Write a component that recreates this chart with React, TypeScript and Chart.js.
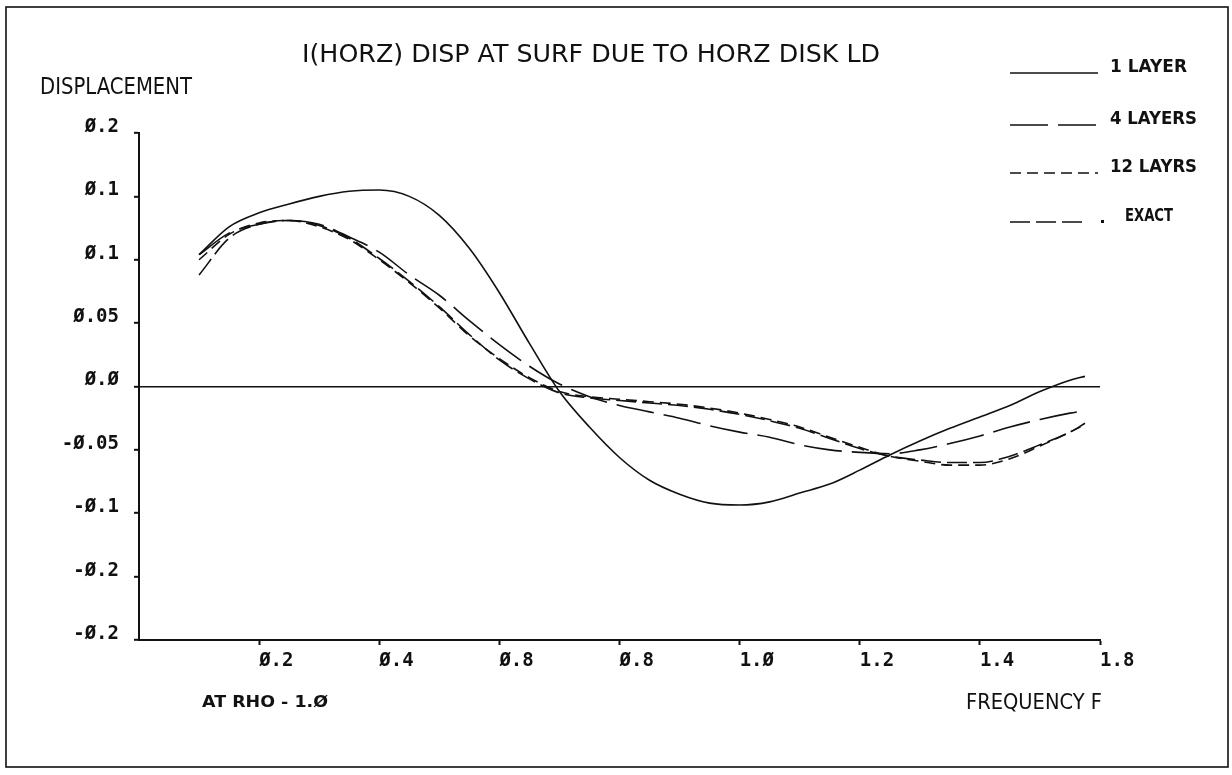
import React, { useEffect, useRef } from "react";
import { Chart, registerables } from "chart.js";

Chart.register(...registerables);

// Frequency samples (x) shared by all four curves
const FREQ = [
  0.1, 0.15, 0.2, 0.25, 0.3, 0.35, 0.4, 0.45, 0.5, 0.55, 0.6, 0.65, 0.7, 0.75, 0.8, 0.85,
  0.9, 0.95, 1.0, 1.05, 1.1, 1.15, 1.2, 1.25, 1.3, 1.35, 1.4, 1.45, 1.5, 1.55, 1.575,
];

const ONE_LAYER = [
  0.104, 0.126, 0.137, 0.144, 0.15, 0.154, 0.155, 0.15, 0.135, 0.109, 0.074, 0.034, -0.004,
  -0.032, -0.056, -0.074, -0.085, -0.092, -0.0935, -0.091, -0.084, -0.077, -0.066, -0.054,
  -0.043, -0.033, -0.024, -0.015, -0.004, 0.005, 0.008,
];

const FOUR_LAYERS = [
  0.104, 0.121, 0.128, 0.131, 0.128, 0.118, 0.106, 0.088, 0.072, 0.052, 0.033, 0.016, 0.002,
  -0.008, -0.015, -0.02, -0.025, -0.031, -0.036, -0.04, -0.046, -0.05, -0.052, -0.053, -0.05,
  -0.045, -0.039, -0.032, -0.026, -0.021, -0.019,
];

const TWELVE_LAYERS = [
  0.1, 0.12, 0.129, 0.131, 0.126, 0.116, 0.1, 0.082, 0.062, 0.04, 0.022, 0.007, -0.004,
  -0.008, -0.01, -0.012, -0.014, -0.017, -0.021, -0.026, -0.032, -0.04, -0.048, -0.055,
  -0.059, -0.062, -0.062, -0.057, -0.047, -0.036, -0.03,
];

const EXACT = [
  0.088, 0.117, 0.128, 0.131, 0.127, 0.117, 0.101, 0.083, 0.063, 0.041, 0.021, 0.006, -0.005,
  -0.009, -0.011, -0.013, -0.015, -0.018, -0.022, -0.027, -0.033, -0.041, -0.049, -0.055,
  -0.058, -0.06, -0.06, -0.055, -0.046, -0.036, -0.029,
];

const SERIES_LABELS = ["1 LAYER", "4 LAYERS", "12 LAYRS", "EXACT"];

const X_TICKS = [0.2, 0.4, 0.6, 0.8, 1.0, 1.2, 1.4, 1.6];
const X_TICK_LABELS = ["Ø.2", "Ø.4", "Ø.8", "Ø.8", "1.Ø", "1.2", "1.4", "1.8"];
const Y_TICKS = [-0.2, -0.15, -0.1, -0.05, 0, 0.05, 0.1, 0.15, 0.2];
const Y_TICK_LABELS = ["-Ø.2", "-Ø.2", "-Ø.1", "-Ø.05", "Ø.Ø", "Ø.05", "Ø.1", "Ø.1", "Ø.2"];

const TITLE = "I(HORZ) DISP AT SURF DUE TO HORZ DISK LD";
const Y_TITLE = "DISPLACEMENT";
const X_TITLE = "FREQUENCY F";
const NOTE = "AT RHO - 1.Ø";

const INK = "#111";
const W = 1232;
const H = 775;

// Draw text squeezed/stretched horizontally to a given width (plotter lettering)
function fitText(
  ctx: CanvasRenderingContext2D,
  text: string,
  x: number,
  y: number,
  width: number,
  font: string
) {
  ctx.save();
  ctx.font = font;
  const w = ctx.measureText(text).width;
  ctx.translate(x, y);
  ctx.scale(width / w, 1);
  ctx.textAlign = "left";
  ctx.textBaseline = "middle";
  ctx.fillStyle = INK;
  ctx.fillText(text, 0, 0);
  ctx.restore();
}

const framePlugin = {
  id: "plotterFrame",
  beforeDraw(chart: any) {
    const ctx = chart.ctx as CanvasRenderingContext2D;
    ctx.save();
    ctx.fillStyle = "#fff";
    ctx.fillRect(0, 0, W, H);
    ctx.strokeStyle = INK;
    ctx.lineWidth = 1.6;
    ctx.strokeRect(6, 7, 1222, 760);
    ctx.restore();
  },
};

// Legend rows: sample line followed by the series name
const LEGEND_ROWS_Y = [68, 120, 168, 217];
const LEGEND_TEXT_X = [1110, 1110, 1110, 1125];
const LEGEND_TEXT_W = [77, 87, 87, 48];

const labelsPlugin = {
  id: "plotterLabels",
  afterDraw(chart: any) {
    const ctx = chart.ctx as CanvasRenderingContext2D;
    fitText(ctx, TITLE, 302, 55, 578, '400 25px "DejaVu Sans"');
    fitText(ctx, Y_TITLE, 40, 88, 152, '400 23px "DejaVu Sans"');
    fitText(ctx, NOTE, 202, 703, 126, '700 15px "DejaVu Sans"');
    fitText(ctx, X_TITLE, 966, 703, 136, '400 22px "DejaVu Sans"');

    chart.data.datasets.forEach((ds: any, i: number) => {
      const y = LEGEND_ROWS_Y[i];
      ctx.save();
      ctx.strokeStyle = INK;
      ctx.lineWidth = 1.6;
      ctx.setLineDash(ds.borderDash || []);
      ctx.beginPath();
      const end = i === 3 ? 1083 : 1098;
      ctx.moveTo(1010, y + 5);
      ctx.lineTo(end, y + 5);
      ctx.stroke();
      if (i === 3) {
        ctx.setLineDash([]);
        ctx.fillStyle = INK;
        ctx.fillRect(1101, y + 3, 3, 3);
      }
      ctx.restore();
      fitText(ctx, ds.label, LEGEND_TEXT_X[i], y, LEGEND_TEXT_W[i], '700 17px "DejaVu Sans"');
    });
  },
};

function series(values: number[]) {
  return FREQ.map((f, i) => ({ x: f, y: values[i] }));
}

export default function App() {
  const canvasRef = useRef<HTMLCanvasElement | null>(null);

  useEffect(() => {
    const canvas = canvasRef.current;
    if (!canvas) return;
    const base = {
      borderColor: INK,
      borderWidth: 1.6,
      pointRadius: 0,
      fill: false,
      cubicInterpolationMode: "monotone" as const,
    };
    const chart = new Chart(canvas, {
      type: "line",
      data: {
        datasets: [
          { ...base, label: SERIES_LABELS[0], data: series(ONE_LAYER), borderDash: [] },
          { ...base, label: SERIES_LABELS[1], data: series(FOUR_LAYERS), borderDash: [38, 10] },
          { ...base, label: SERIES_LABELS[2], data: series(TWELVE_LAYERS), borderDash: [11, 6] },
          { ...base, label: SERIES_LABELS[3], data: series(EXACT), borderDash: [20, 6] },
        ],
      },
      options: {
        animation: false,
        responsive: false,
        devicePixelRatio: 1,
        events: [],
        layout: { padding: { left: 0, top: 133, right: 132, bottom: 0 } },
        plugins: {
          legend: { display: false },
          title: { display: false },
          tooltip: { enabled: false },
        },
        scales: {
          x: {
            type: "linear",
            min: 0,
            max: 1.6,
            afterBuildTicks: (scale: any) => {
              scale.ticks = X_TICKS.map((v) => ({ value: v }));
            },
            afterFit: (scale: any) => {
              scale.height = H - 640;
            },
            border: { display: true, color: INK, width: 2 },
            grid: {
              drawOnChartArea: false,
              drawTicks: true,
              tickLength: 5,
              tickColor: INK,
              tickWidth: 2,
            },
            ticks: {
              align: "start",
              maxRotation: 0,
              autoSkip: false,
              padding: 5,
              color: INK,
              font: { family: '"DejaVu Sans Mono"', size: 19, weight: "bold" },
              callback: (_v: any, i: number) => X_TICK_LABELS[i],
            },
          },
          y: {
            type: "linear",
            min: -0.2,
            max: 0.2,
            afterBuildTicks: (scale: any) => {
              scale.ticks = Y_TICKS.map((v) => ({ value: v }));
            },
            afterFit: (scale: any) => {
              scale.width = 139;
            },
            border: { display: true, color: INK, width: 2 },
            grid: {
              drawOnChartArea: true,
              drawTicks: true,
              tickLength: 5,
              tickColor: INK,
              tickWidth: 2,
              lineWidth: 1.6,
              color: (c: any) =>
                c.tick && Math.abs(c.tick.value) < 1e-9 ? INK : "rgba(0,0,0,0)",
            },
            ticks: {
              autoSkip: false,
              padding: 15,
              labelOffset: -6,
              color: INK,
              font: { family: '"DejaVu Sans Mono"', size: 19, weight: "bold" },
              callback: (_v: any, i: number) => Y_TICK_LABELS[i],
            },
          },
        },
      },
      plugins: [framePlugin, labelsPlugin],
    });
    return () => chart.destroy();
  }, []);

  return (
    <div style={{ position: "fixed", left: 0, top: 0, width: W, height: H, background: "#fff" }}>
      <canvas ref={canvasRef} width={W} height={H} style={{ width: W, height: H, display: "block" }} />
    </div>
  );
}
